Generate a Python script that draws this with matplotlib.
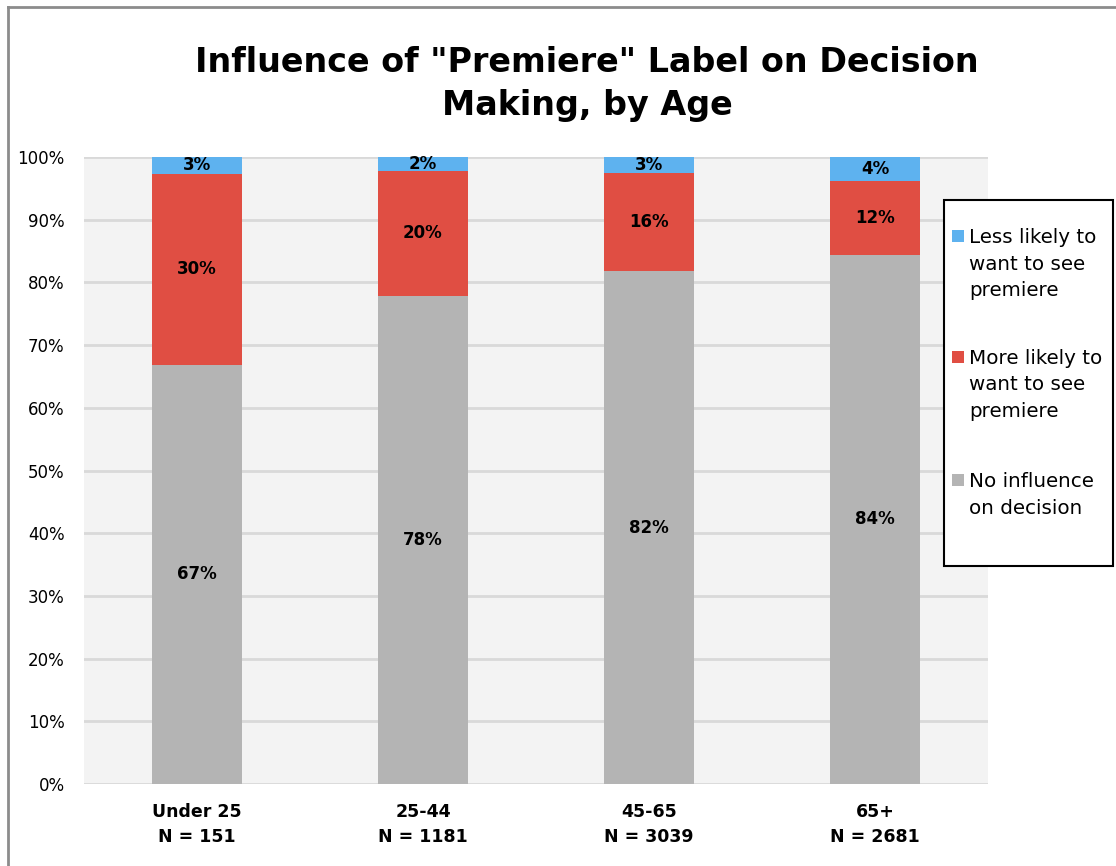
import numpy as np
import matplotlib
matplotlib.use("Agg")
from matplotlib import pyplot as plt
from matplotlib.lines import Line2D
from matplotlib.patches import Rectangle

# data
age_groups = ["Under 25", "25-44", "45-65", "65+"]
sample_sizes = [151, 1181, 3039, 2681]
no_influence = [66.9, 77.8, 81.8, 84.4]
more_likely = [30.4, 20.0, 15.6, 11.7]
less_likely = [2.7, 2.2, 2.6, 3.9]

series_names = ["No influence\non decision",
                "More likely to\nwant to see\npremiere",
                "Less likely to\nwant to see\npremiere"]
series_colors = ["#b4b4b4", "#e04e43", "#5eb2ef"]

plt.rcParams['font.family'] = ['DejaVu Sans']

W, H = 1116, 866


def fx(px):
    return px / W


def fy(py):
    return 1 - py / H


def main():
    fig = plt.figure(figsize=(W / 100, H / 100), dpi=100)
    ax = fig.add_axes([fx(84), 82 / H, 904 / W, 627 / H])
    ax.set_facecolor("#f3f3f3")

    x = np.arange(len(age_groups))
    bottoms = np.zeros(len(age_groups))
    for vals, name, color in zip([no_influence, more_likely, less_likely],
                                 series_names, series_colors):
        ax.bar(x, vals, width=0.4, bottom=bottoms, color=color, zorder=3)
        for xi, b, v in zip(x, bottoms, vals):
            ax.text(xi, b + v / 2, f"{round(v):d}%", ha="center", va="center",
                    fontsize=12, fontweight="bold", zorder=4)
        bottoms = bottoms + np.array(vals)

    ax.set_xlim(-0.5, 3.5)
    ax.set_ylim(0, 100)
    ax.set_yticks(np.arange(0, 101, 10))
    ax.set_yticklabels([f"{v}%" for v in range(0, 101, 10)], fontsize=12)
    ax.set_xticks(x)
    ax.set_xticklabels([f"{g}\nN = {n}" for g, n in zip(age_groups, sample_sizes)],
                       fontsize=12.5, fontweight="bold", linespacing=1.45)
    ax.yaxis.grid(True, color="#d9d9d9", lw=2, zorder=0)
    ax.tick_params(axis="y", length=0, pad=14)
    ax.tick_params(axis="x", length=0, pad=14)
    for s in ax.spines.values():
        s.set_visible(False)

    # legend box, drawn by hand so the swatches sit on the first text line
    fig.add_artist(Rectangle((fx(944), fy(566)), fx(1113) - fx(944), fy(200) - fy(566),
                             transform=fig.transFigure, facecolor="white",
                             edgecolor="black", lw=1.5, zorder=5))
    entry_tops = [228, 349, 472]
    for top, name, color in zip(entry_tops, series_names[::-1], series_colors[::-1]):
        fig.add_artist(Rectangle((fx(952), fy(top + 14)), fx(12), 12 / H,
                                 transform=fig.transFigure, facecolor=color,
                                 edgecolor="none", zorder=6))
        fig.text(fx(969), fy(top), name, ha="left", va="top", fontsize=14.3,
                 linespacing=1.5, zorder=6)

    fig.text(fx(587), fy(84),
             "Influence of \"Premiere\" Label on Decision\nMaking, by Age",
             ha="center", va="center", fontsize=24, fontweight="bold",
             linespacing=1.38)

    # chart outer border
    fig.add_artist(Line2D([fx(8), fx(8)], [0, fy(7)],
                          transform=fig.transFigure, color="#8c8c8c", lw=2))
    fig.add_artist(Line2D([fx(8), 1], [fy(7), fy(7)],
                          transform=fig.transFigure, color="#8c8c8c", lw=2))

    fig.savefig("out.png", dpi=100)


if __name__ == '__main__':
    main()
